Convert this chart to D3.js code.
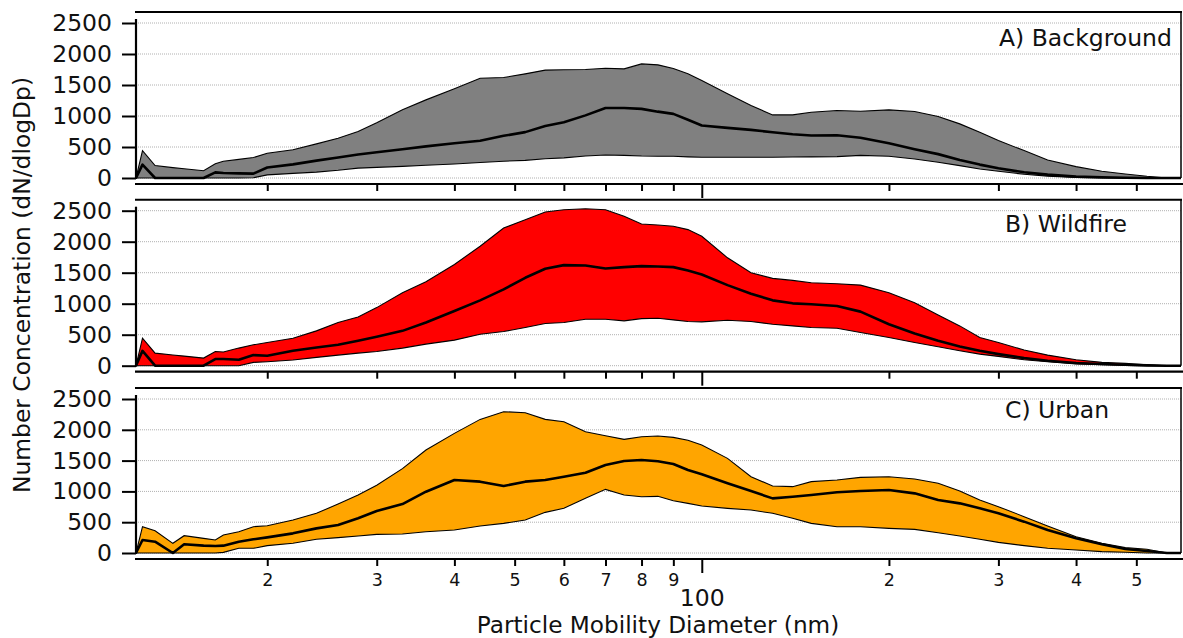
<!DOCTYPE html>
<html>
<head>
<meta charset="utf-8">
<script src="https://cdn.jsdelivr.net/npm/d3@7"></script>
<style>
  body { margin: 0; background: #fff; }
  svg { display: block; font-family: "DejaVu Sans", sans-serif; }
</style>
</head>
<body>
<svg width="1183" height="638"></svg>
<script>
// particle mobility diameters (nm) where the curves are read
var diameters = [12.3, 12.6, 13.2, 14.1, 14.7, 15.8, 16.5, 17, 18, 19, 20, 22, 24, 26, 28, 30, 33, 36, 40, 44, 48, 52, 56, 60,
  65, 70, 75, 80, 85, 90, 95, 100, 110, 120, 130, 140, 150, 165, 180, 200, 220, 240, 260, 280, 300, 330, 360, 400, 440, 480, 520, 560, 590];

// A) Background
var bgUpper = [0, 440, 200, 167, 148, 118, 230, 270, 300, 330, 400, 455, 550, 640, 750, 890, 1100, 1260, 1440, 1610, 1620, 1680, 1740, 1745,
  1750, 1770, 1760, 1840, 1825, 1765, 1680, 1573, 1358, 1169, 1018, 1018, 1061, 1088, 1077, 1099, 1072, 991, 873, 738, 603, 442, 291, 183, 108, 65, 27, 0, 0];
var bgMedian = [0, 215, 0, 0, 0, 0, 90, 80, 75, 70, 170, 220, 280, 330, 380, 415, 465, 510, 560, 600, 680, 740, 840, 900,
  1010, 1130, 1130, 1115, 1070, 1034, 940, 846, 808, 776, 738, 705, 685, 690, 650, 560, 465, 385, 291, 216, 156, 92, 54, 22, 10, 5, 0, 0, 0];
var bgLower = [0, 0, 0, 0, 0, 0, 0, 0, 0, 5, 50, 75, 95, 125, 160, 172, 188, 205, 226, 250, 270, 285, 310, 325,
  355, 372, 365, 355, 352, 350, 340, 334, 334, 334, 334, 338, 340, 345, 365, 350, 307, 253, 199, 145, 108, 60, 30, 10, 5, 0, 0, 0, 0];

// B) Wildfire
var wfUpper = [0, 444, 203, 173, 155, 123, 230, 220, 284, 337, 375, 444, 562, 696, 787, 937, 1178, 1354, 1633, 1927, 2221, 2355, 2478, 2516,
  2532, 2516, 2409, 2286, 2270, 2248, 2195, 2088, 1740, 1499, 1408, 1376, 1338, 1322, 1300, 1178, 1017, 819, 642, 455, 375, 252, 171, 96, 54, 37, 16, 0, 0];
var wfMedian = [0, 240, 0, 0, 0, 0, 107, 107, 96, 171, 160, 240, 294, 337, 401, 466, 562, 696, 883, 1054, 1231, 1418, 1563, 1622,
  1617, 1568, 1590, 1606, 1600, 1590, 1536, 1472, 1300, 1162, 1054, 1006, 990, 963, 872, 669, 519, 401, 310, 240, 187, 123, 80, 43, 27, 16, 5, 0, 0];
var wfLower = [0, 0, 0, 0, 0, 0, 0, 0, 0, 54, 64, 91, 134, 171, 203, 230, 284, 348, 412, 508, 551, 616, 680, 696,
  749, 749, 723, 760, 765, 739, 712, 707, 733, 712, 669, 642, 616, 605, 535, 455, 375, 305, 240, 187, 150, 96, 64, 27, 16, 5, 0, 0, 0];

// C) Urban
var urUpper = [0, 427, 362, 157, 281, 238, 211, 292, 346, 427, 443, 535, 644, 795, 941, 1100, 1370, 1672, 1942, 2169, 2294, 2278, 2169, 2132,
  1969, 1904, 1845, 1888, 1900, 1877, 1830, 1753, 1536, 1239, 1087, 1077, 1158, 1185, 1228, 1239, 1201, 1131, 1006, 860, 752, 590, 438, 265, 157, 87, 60, 0, 0];
var urMedian = [0, 211, 184, 0, 141, 119, 114, 119, 184, 222, 254, 319, 400, 454, 563, 681, 795, 995, 1185, 1158, 1087, 1158, 1185, 1239,
  1304, 1428, 1493, 1509, 1490, 1444, 1347, 1277, 1131, 1006, 887, 914, 941, 985, 1006, 1022, 968, 860, 806, 725, 644, 509, 373, 238, 141, 65, 32, 0, 0];
var urLower = [0, 0, 0, 0, 0, 0, 0, 10, 76, 76, 119, 157, 222, 249, 276, 303, 308, 346, 373, 438, 481, 535, 660, 725,
  887, 1033, 941, 914, 920, 849, 806, 763, 725, 698, 644, 563, 481, 427, 427, 400, 384, 330, 276, 222, 173, 119, 76, 49, 22, 11, 0, 0, 0];

var panelNames = ["A) Background", "B) Wildfire", "C) Urban"];
var panelColors = ["#808080", "#ff0000", "#ffa500"];
var yTicks = [0, 500, 1000, 1500, 2000, 2500];
var xTicks = [20, 30, 40, 50, 60, 70, 80, 90, 100, 200, 300, 400, 500];
var xTickLabels = ["2", "3", "4", "5", "6", "7", "8", "9", "100", "2", "3", "4", "5"];

var series = [
  { upper: bgUpper, median: bgMedian, lower: bgLower },
  { upper: wfUpper, median: wfMedian, lower: wfLower },
  { upper: urUpper, median: urMedian, lower: urLower }
];

// layout
var svg = d3.select("svg");
var left = 136, right = 1181;
var panelTop = [23, 210.7, 399];      // y of 2500
var panelBottom = [178, 365.7, 553];  // y of 0
var labelX = [999, 1005, 1005];
var labelY = [46, 232, 418];

var x = d3.scaleLog().domain([12.3, 590]).range([left, right]);

series.forEach(function(s, i) {
  var y = d3.scaleLinear().domain([0, 2500]).range([panelBottom[i], panelTop[i]]);
  var g = svg.append("g");

  var pts = diameters.map(function(d, k) {
    return { d: d, lo: s.lower[k], md: s.median[k], hi: s.upper[k] };
  });

  // dotted gridlines
  g.selectAll(".grid")
    .data(yTicks)
    .enter()
    .append("line")
    .attr("x1", left).attr("x2", right)
    .attr("y1", d => y(d)).attr("y2", d => y(d))
    .attr("stroke", "#b0b0b0")
    .attr("stroke-width", 1)
    .attr("stroke-dasharray", "1,1");

  // band between lower and upper
  var area = d3.area()
    .x(d => x(d.d))
    .y0(d => y(d.lo))
    .y1(d => y(d.hi));
  g.append("path")
    .datum(pts)
    .attr("d", area)
    .attr("fill", panelColors[i]);

  var lineHi = d3.line().x(d => x(d.d)).y(d => y(d.hi));
  var lineLo = d3.line().x(d => x(d.d)).y(d => y(d.lo));
  var lineMd = d3.line().x(d => x(d.d)).y(d => y(d.md));

  g.append("path").datum(pts).attr("d", lineHi)
    .attr("fill", "none").attr("stroke", "#000").attr("stroke-width", 1.1);
  g.append("path").datum(pts).attr("d", lineLo)
    .attr("fill", "none").attr("stroke", "#000").attr("stroke-width", 1.1);
  g.append("path").datum(pts).attr("d", lineMd)
    .attr("fill", "none").attr("stroke", "#000").attr("stroke-width", 2.6)
    .attr("stroke-linejoin", "round");

  // frame: top and right
  var frameTop = panelTop[i] - 11;
  g.append("line")
    .attr("x1", left - 1).attr("x2", right + 1)
    .attr("y1", frameTop).attr("y2", frameTop)
    .attr("stroke", "#000").attr("stroke-width", 2);
  g.append("line")
    .attr("x1", right).attr("x2", right)
    .attr("y1", frameTop).attr("y2", panelBottom[i])
    .attr("stroke", "#000").attr("stroke-width", 1.5);

  // left axis
  var yAxis = g.append("g")
    .attr("transform", "translate(" + left + ",0)")
    .call(d3.axisLeft(y).tickValues(yTicks).tickSize(14).tickPadding(10)
      .tickFormat(d3.format("d")));
  yAxis.select(".domain").remove();
  yAxis.selectAll(".tick line").attr("stroke", "#000").attr("stroke-width", 2);
  yAxis.selectAll(".tick text")
    .attr("font-family", "DejaVu Sans, sans-serif")
    .attr("font-size", "23.5px")
    .attr("fill", "#111");
  g.append("line")
    .attr("x1", left).attr("x2", left)
    .attr("y1", panelTop[i] - 4).attr("y2", panelBottom[i] + 1)
    .attr("stroke", "#000").attr("stroke-width", 2.2);

  // bottom axis, offset below the plot
  var axisY = panelBottom[i] + 6;
  var xAxis = g.append("g")
    .attr("transform", "translate(0," + axisY + ")")
    .call(d3.axisBottom(x).tickValues(xTicks).tickSize(7)
      .tickFormat((d, k) => i === 2 ? xTickLabels[k] : ""));
  xAxis.select(".domain").remove();
  xAxis.selectAll(".tick line").attr("stroke", "#000").attr("stroke-width", 2)
    .attr("y2", d => d === 100 ? 14 : 7);
  xAxis.selectAll(".tick text")
    .attr("font-family", "DejaVu Sans, sans-serif")
    .attr("fill", "#111")
    .attr("dy", null)
    .attr("y", d => d === 100 ? 47 : 27)
    .attr("font-size", d => d === 100 ? "23.5px" : "17.5px");
  g.append("line")
    .attr("x1", left - 1).attr("x2", right + 2)
    .attr("y1", axisY).attr("y2", axisY)
    .attr("stroke", "#000").attr("stroke-width", 2.2);

  // panel label
  g.append("text")
    .attr("x", labelX[i])
    .attr("y", labelY[i])
    .attr("font-size", "23.5px")
    .attr("fill", "#111")
    .text(panelNames[i]);
});

// axis titles
svg.append("text")
  .attr("x", 658)
  .attr("y", 633)
  .attr("text-anchor", "middle")
  .attr("font-size", "23.2px")
  .attr("fill", "#111")
  .text("Particle Mobility Diameter (nm)");

svg.append("text")
  .attr("transform", "translate(30,285) rotate(-90)")
  .attr("text-anchor", "middle")
  .attr("font-size", "23.4px")
  .attr("fill", "#111")
  .text("Number Concentration (dN/dlogDp)");
</script>
</body>
</html>
